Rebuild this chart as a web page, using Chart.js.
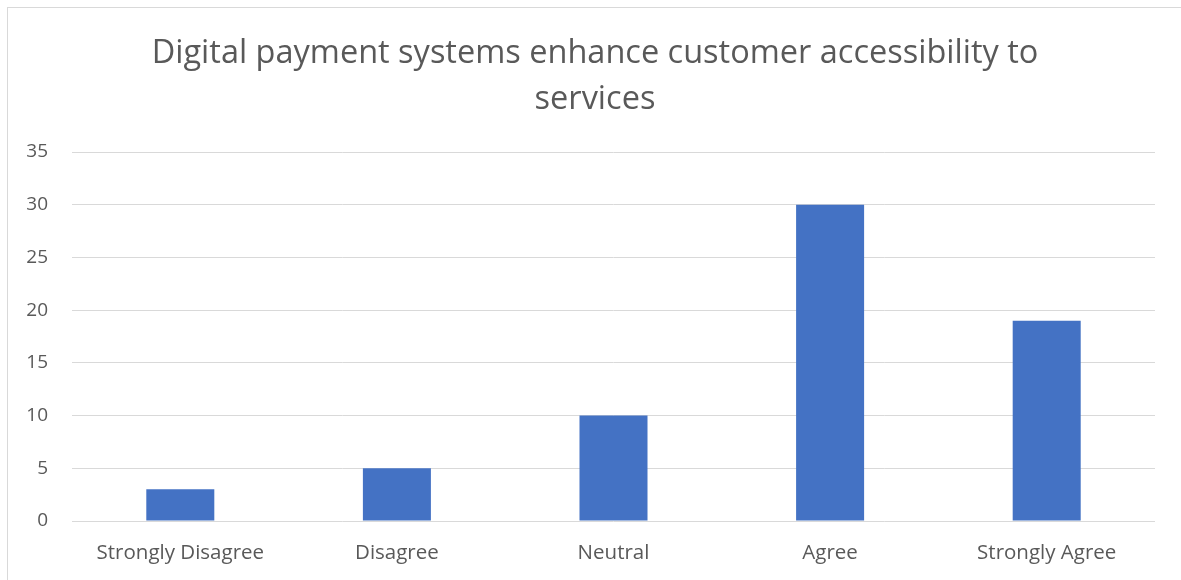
<!DOCTYPE html>
<html>
<head>
<meta charset="utf-8">
<script src="https://cdn.jsdelivr.net/npm/chart.js@4.4.0/dist/chart.umd.min.js"></script>
<style>
  html, body { margin: 0; padding: 0; background: #fff; }
  #wrap { position: relative; width: 1181px; height: 580px; }
  #frame { position: absolute; left: 7px; top: 7px; right: -2px; bottom: -2px;
           border-left: 1px solid #d9d9d9; border-top: 1px solid #d9d9d9; }
  canvas { position: absolute; left: 0; top: 0; }
</style>
</head>
<body>
<div id="wrap">
  <div id="frame"></div>
  <canvas id="myChart" width="1181" height="580"></canvas>
</div>
<script>
// chart data
const categories = ["Strongly Disagree", "Disagree", "Neutral", "Agree", "Strongly Agree"];
const responses = [3, 5, 10, 30, 19];
const yTicks = [0, 5, 10, 15, 20, 25, 30, 35];
const chartTitle = ["Digital payment systems enhance customer accessibility to", "services"];

const textGrey = "#595959";
const ctx = document.getElementById("myChart").getContext("2d");

new Chart(ctx, {
  type: "bar",
  data: {
    labels: categories,
    datasets: [
      {
        label: "Responses",
        data: responses,
        backgroundColor: "#4472C4",
        barPercentage: 0.314,
        categoryPercentage: 1,
      },
    ],
  },
  options: {
    responsive: false,
    animation: false,
    // small left padding so the title sits in the middle of the frame
    layout: { padding: { left: 9, right: 0, top: 0, bottom: 0 } },
    plugins: {
      legend: { display: false },
      tooltip: { enabled: false },
      title: {
        display: true,
        text: chartTitle,
        color: textGrey,
        font: { family: "Open Sans", size: 32.5, weight: "normal", lineHeight: 1.4 },
        padding: { top: 31, bottom: 30 },
      },
    },
    scales: {
      x: {
        grid: { display: false, drawTicks: false },
        border: { display: false },
        ticks: {
          color: textGrey,
          font: { family: "Open Sans", size: 20.5 },
          padding: 20,
          maxRotation: 0,
          autoSkip: false,
        },
        afterFit: (scale) => { scale.height = 59; },
      },
      y: {
        min: 0,
        max: 35,
        grid: { color: "#d9d9d9", lineWidth: 1, drawTicks: false },
        border: { display: false },
        afterBuildTicks: (scale) => { scale.ticks = yTicks.map((v) => ({ value: v })); },
        ticks: {
          color: textGrey,
          font: { family: "Open Sans", size: 19 },
          padding: 24,
        },
        afterFit: (scale) => { scale.width = 63; },
      },
      // empty spacer on the right side of the plot
      spacer: {
        type: "linear",
        position: "right",
        grid: { display: false, drawTicks: false },
        border: { display: false },
        ticks: { display: false },
        afterFit: (scale) => { scale.width = 26; },
      },
    },
  },
});
</script>
</body>
</html>
